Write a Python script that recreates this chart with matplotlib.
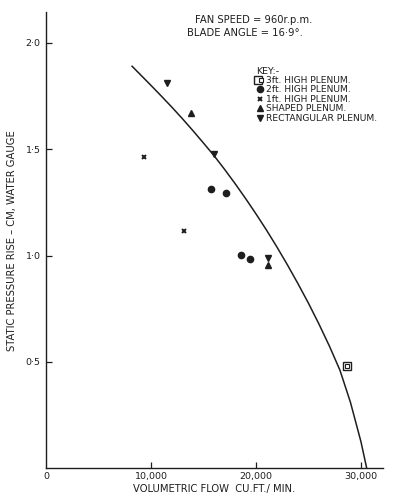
import numpy as np
import matplotlib
matplotlib.use('Agg')
from matplotlib import pyplot as plt
from matplotlib.legend_handler import HandlerTuple

# fan characteristic curve (flow in cu.ft./min, pressure in cm w.g.)
curve_flow = [8200, 9000, 10000, 11000, 12000, 13000, 14000, 15000, 16000, 17000,
              18000, 19000, 20000, 21000, 22000, 23000, 24000, 25000, 26000, 27000,
              28000, 29000, 30000, 30550]
curve_pressure = [1.89, 1.85, 1.80, 1.749, 1.697, 1.643, 1.587, 1.529, 1.470, 1.406,
                  1.339, 1.269, 1.196, 1.12, 1.04, 0.956, 0.868, 0.776, 0.678, 0.574,
                  0.461, 0.310, 0.125, 0.0]

# measured points for each plenum
flow_3ft = [28700]
pres_3ft = [0.48]
flow_2ft = [15700, 17150, 18550, 19450]
pres_2ft = [1.315, 1.295, 1.005, 0.983]
flow_1ft = [9350, 13150]
pres_1ft = [1.462, 1.117]
flow_shaped = [13800, 21150]
pres_shaped = [1.669, 0.956]
flow_rect = [11550, 16000, 21130]
pres_rect = [1.81, 1.478, 0.989]

xticks = [0, 10000, 20000, 30000]
xticklabels = ['0', '10,000', '20,000', '30,000']
yticks = [0.5, 1.0, 1.5, 2.0]
yticklabels = ['0·5', '1·0', '1·5', '2·0']

INK = '#1e1e1e'
W, H = 398, 498
FS = 7.2

fig = plt.figure(figsize=(W/100, H/100), dpi=100)
ax = fig.add_axes([46/W, 1-468.3/H, (383-46)/W, (468.3-12)/H])

ax.plot(curve_flow, curve_pressure, color=INK, lw=1.1)

h3a, = ax.plot(flow_3ft, pres_3ft, ls='none', marker='s', ms=6, mfc='white', mec=INK, mew=1.0)
h3b, = ax.plot(flow_3ft, pres_3ft, ls='none', marker='s', ms=2.5, mfc='white', mec=INK, mew=0.8)
h2, = ax.plot(flow_2ft, pres_2ft, ls='none', marker='o', ms=4.5, mfc=INK, mec=INK)
h1, = ax.plot(flow_1ft, pres_1ft, ls='none', marker='x', ms=3.5, mec=INK, mew=1.4)
hs, = ax.plot(flow_shaped, pres_shaped, ls='none', marker='^', ms=4.5, mfc=INK, mec=INK)
hr, = ax.plot(flow_rect, pres_rect, ls='none', marker='v', ms=4.5, mfc=INK, mec=INK)

ax.set_xlim(0, 32100)
ax.set_ylim(0, 2.145)
ax.spines['top'].set_visible(False)
ax.spines['right'].set_visible(False)
for s in ['left', 'bottom']:
    ax.spines[s].set_color(INK)
    ax.spines[s].set_linewidth(1.0)

ax.set_xticks(xticks)
ax.set_xticklabels(xticklabels, fontsize=6.8, color=INK)
ax.set_yticks(yticks)
ax.set_yticklabels(yticklabels, fontsize=6.8, color=INK)
ax.tick_params(axis='both', direction='in', length=4, width=0.9, color=INK, pad=4)
ax.tick_params(axis='x', pad=3)
ax.xaxis.get_major_ticks()[0].tick1line.set_visible(False)

ax.set_xlabel('VOLUMETRIC FLOW  CU.FT./ MIN.', fontsize=FS, color=INK, labelpad=2)
ax.set_ylabel('STATIC PRESSURE RISE \u2013 CM, WATER GAUGE', fontsize=FS, color=INK, labelpad=6)

fig.text(195/W, 1-20/H, 'FAN SPEED = 960r.p.m.', fontsize=FS, color=INK, va='center', ha='left')
fig.text(187/W, 1-33/H, 'BLADE ANGLE = 16·9°.', fontsize=FS, color=INK, va='center', ha='left')

leg = ax.legend([(h3a, h3b), h2, h1, hs, hr],
                ['3ft. HIGH PLENUM.', '2ft. HIGH PLENUM.', '1ft. HIGH PLENUM.',
                 'SHAPED PLENUM.', 'RECTANGULAR PLENUM.'],
                handler_map={tuple: HandlerTuple(ndivide=None, pad=0)},
                title='KEY:-', title_fontsize=6.8, fontsize=6.6, frameon=False,
                loc='upper left', bbox_to_anchor=(252/W, 1-62/H), bbox_transform=fig.transFigure,
                handlelength=0.7, handletextpad=0.3, labelspacing=0.05, borderpad=0,
                alignment='left')
for t in leg.get_texts():
    t.set_color(INK)
leg.get_title().set_color(INK)

fig.savefig('out.png', dpi=100)
